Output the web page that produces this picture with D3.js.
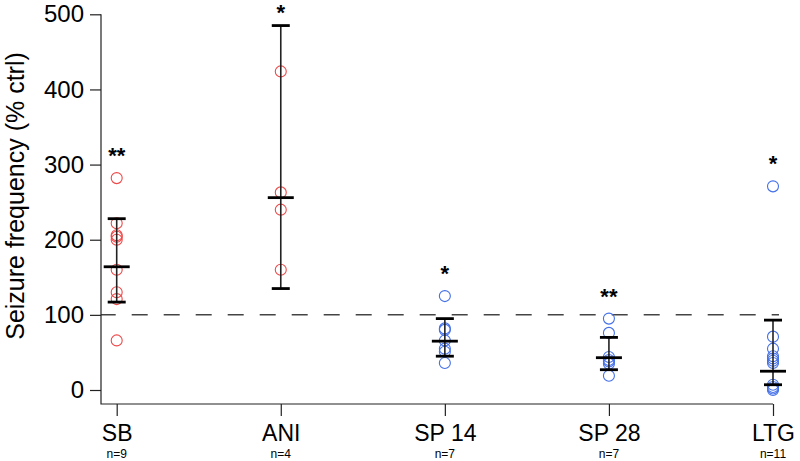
<!DOCTYPE html>
<html>
<head>
<meta charset="utf-8">
<script src="https://cdn.jsdelivr.net/npm/d3@7"></script>
<style>
  html, body { margin: 0; padding: 0; background: #fff; }
  svg { display: block; }
  text { font-family: "Liberation Sans", Arial, Helvetica, sans-serif; fill: #000; }
</style>
</head>
<body>
<svg id="chart" width="800" height="461"></svg>
<script>
// ---- data ----
const categories = ["SB", "ANI", "SP 14", "SP 28", "LTG"];
const nLabels = ["n=9", "n=4", "n=7", "n=7", "n=11"];
const groupColor = ["red", "red", "blue", "blue", "blue"];
const stars = ["**", "*", "*", "**", "*"];
const pointsSB = [282, 222, 206, 204, 200, 160, 130, 121, 66];
const pointsANI = [424, 263, 240, 160];
const pointsSP14 = [125, 82, 80, 66, 55, 51, 36];
const pointsSP28 = [95, 76, 44, 40, 38, 35, 19];
const pointsLTG = [271, 71, 55, 45, 42, 39, 36, 7, 4, 2, 0];
const centerValues = [164, 256, 65, 43, 25];
const upperValues = [228, 485, 95, 70, 93];
const lowerValues = [117, 135, 45, 27, 7];
const yTicks = [0, 100, 200, 300, 400, 500];
const referenceValue = 100;
const yTitle = "Seizure frequency (% ctrl)";

const pointSets = [pointsSB, pointsANI, pointsSP14, pointsSP28, pointsLTG];

// ---- layout ----
const svg = d3.select("#chart");
const colors = { red: "#ee4a4a", blue: "#4470e8" };
const axisX = 101, axisY = 404;
const x = d3.scalePoint().domain(categories).range([116.7, 773]);
const y = d3.scaleLinear().domain([0, 500]).range([390, 14.3]);

// reference dashed line
svg.append("line")
  .attr("x1", axisX).attr("x2", 779)
  .attr("y1", y(referenceValue)).attr("y2", y(referenceValue))
  .attr("stroke", "#444").attr("stroke-width", 1.5)
  .attr("stroke-dasharray", "16,16")
  .attr("stroke-dashoffset", 1.3);

// axes
const yAxis = d3.axisLeft(y).tickValues(yTicks).tickSize(11).tickPadding(6);
const gy = svg.append("g").attr("transform", `translate(${axisX},0)`).call(yAxis);
gy.select(".domain").remove();
gy.selectAll(".tick line").attr("stroke", "#222").attr("stroke-width", 1.2);
gy.selectAll(".tick text").attr("font-size", 24).attr("fill", "#000")
  .style("font-family", '"Liberation Sans", Arial, sans-serif');

const xAxis = d3.axisBottom(x).tickSize(12).tickPadding(9);
const gx = svg.append("g").attr("transform", `translate(0,${axisY})`).call(xAxis);
gx.select(".domain").remove();
gx.selectAll(".tick line").attr("stroke", "#222").attr("stroke-width", 1.2);
gx.selectAll(".tick text").attr("font-size", 23).attr("fill", "#000")
  .style("font-family", '"Liberation Sans", Arial, sans-serif');

// axis lines (L shape)
svg.append("path")
  .attr("d", `M${axisX},${y(500)}V${axisY}H${x("LTG")}`)
  .attr("fill", "none").attr("stroke", "#222").attr("stroke-width", 1.2);

// n labels
svg.append("g").selectAll("text").data(categories).join("text")
  .attr("x", d => x(d)).attr("y", 458.3)
  .attr("text-anchor", "middle").attr("font-size", 12)
  .text((d, i) => nLabels[i]);

// y title
svg.append("text")
  .attr("transform", `translate(24,${196}) rotate(-90)`)
  .attr("text-anchor", "middle").attr("font-size", 25)
  .text(yTitle);

// points
categories.forEach((c, i) => {
  svg.append("g").selectAll("circle").data(pointSets[i]).join("circle")
    .attr("cx", x(c)).attr("cy", d => y(d)).attr("r", 5.5)
    .attr("fill", "none").attr("stroke", colors[groupColor[i]]).attr("stroke-width", 1.1);
});

// error bars
categories.forEach((c, i) => {
  const g = svg.append("g");
  const cx = x(c);
  g.append("line").attr("x1", cx).attr("x2", cx)
    .attr("y1", y(upperValues[i])).attr("y2", y(lowerValues[i]))
    .attr("stroke", "#222").attr("stroke-width", 1.6);
  [upperValues[i], lowerValues[i]].forEach(v => {
    g.append("line").attr("x1", cx - 9).attr("x2", cx + 9)
      .attr("y1", y(v)).attr("y2", y(v))
      .attr("stroke", "#000").attr("stroke-width", 2.8);
  });
  g.append("line").attr("x1", cx - 13).attr("x2", cx + 13)
    .attr("y1", y(centerValues[i])).attr("y2", y(centerValues[i]))
    .attr("stroke", "#000").attr("stroke-width", 2.8);
});

// significance stars
svg.append("g").selectAll("text").data(categories).join("text")
  .attr("x", d => x(d))
  .attr("y", (d, i) => Math.max(20, y(Math.max(d3.max(pointSets[i]), upperValues[i])) - 24 + 9))
  .attr("text-anchor", "middle").attr("font-size", 22).attr("font-weight", "bold")
  .text((d, i) => stars[i]);
</script>
</body>
</html>
